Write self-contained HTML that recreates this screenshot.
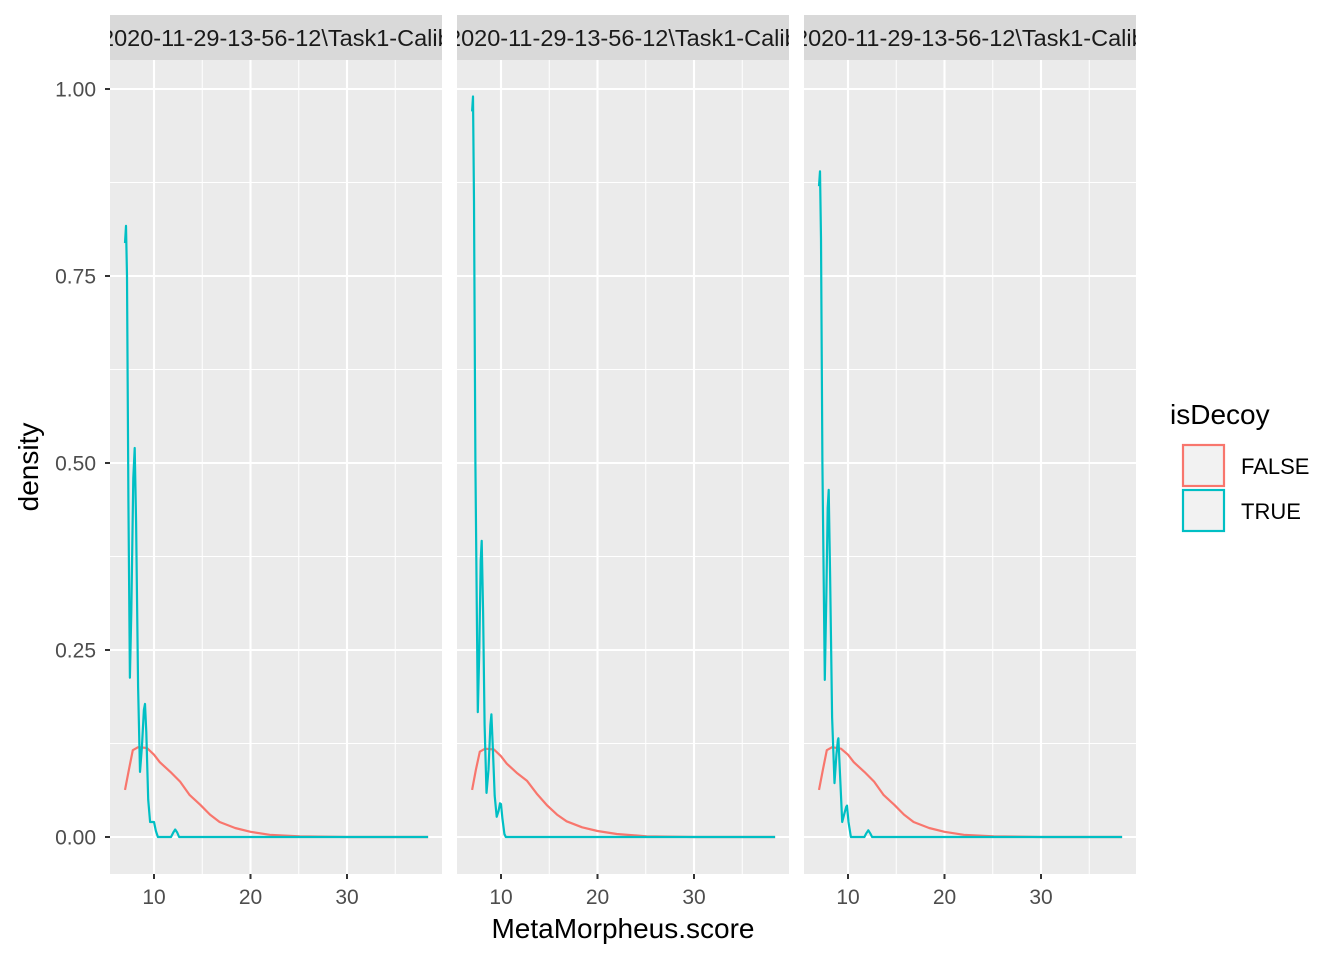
<!DOCTYPE html>
<html><head><meta charset="utf-8"><style>
html,body{margin:0;padding:0;background:#fff;}
svg{display:block;font-family:"Liberation Sans",Arial,sans-serif;}
</style></head><body>
<svg id="chart" width="1344" height="960" viewBox="0 0 1344 960" xmlns="http://www.w3.org/2000/svg"></svg>
<script>
const panelLabels = ["2020-11-29-13-56-12\\Task1-Calibrate", "2020-11-29-13-56-12\\Task1-Calibrate", "2020-11-29-13-56-12\\Task1-Calibrate"];
const xTicks = [10, 20, 30];
const yTicks = [0, 0.25, 0.5, 0.75, 1.0];
const yTickLabels = ["0.00", "0.25", "0.50", "0.75", "1.00"];
const seriesNames = ["FALSE", "TRUE"];
const seriesColors = ["#F8766D", "#00BFC4"];

const falseX = [7.0, 7.4, 7.8, 8.35, 9.27, 10.0, 10.6, 11.7, 12.7, 13.7, 14.8, 15.8, 16.8, 18.4, 20.0, 22.0, 25.1, 30.0, 38.4];
const falseY1 = [0.063, 0.09, 0.116, 0.12, 0.119, 0.11, 0.1, 0.087, 0.074, 0.056, 0.043, 0.03, 0.02, 0.012, 0.007, 0.003, 0.001, 0.0, 0.0];
const falseY2 = [0.063, 0.09, 0.114, 0.118, 0.117, 0.108, 0.098, 0.085, 0.075, 0.058, 0.042, 0.03, 0.021, 0.013, 0.008, 0.004, 0.001, 0.0, 0.0];
const falseY3 = [0.063, 0.09, 0.116, 0.12, 0.118, 0.11, 0.1, 0.087, 0.074, 0.056, 0.043, 0.03, 0.02, 0.012, 0.007, 0.003, 0.001, 0.0, 0.0];

const trueX1 = [7.0, 7.1, 7.2, 7.35, 7.5, 7.65, 7.85, 8.0, 8.15, 8.35, 8.55, 8.75, 8.95, 9.07, 9.2, 9.4, 9.6, 9.8, 10.0, 10.2, 10.4, 11.76, 12.0, 12.2, 12.4, 12.6, 38.4];
const trueY1 = [0.794, 0.817, 0.75, 0.45, 0.213, 0.3, 0.48, 0.52, 0.42, 0.2, 0.087, 0.12, 0.17, 0.178, 0.14, 0.05, 0.02, 0.02, 0.02, 0.008, 0.0, 0.0, 0.006, 0.01, 0.006, 0.0, 0.0];
const trueX2 = [7.0, 7.1, 7.2, 7.35, 7.6, 7.75, 7.9, 8.0, 8.15, 8.3, 8.5, 8.7, 8.9, 9.0, 9.15, 9.35, 9.55, 9.75, 9.9, 10.0, 10.15, 10.35, 10.5, 38.4];
const trueY2 = [0.97, 0.99, 0.85, 0.5, 0.167, 0.25, 0.37, 0.396, 0.3, 0.15, 0.059, 0.09, 0.15, 0.164, 0.12, 0.055, 0.027, 0.035, 0.045, 0.044, 0.025, 0.004, 0.0, 0.0];
const trueX3 = [7.0, 7.1, 7.2, 7.35, 7.6, 7.75, 7.9, 8.0, 8.15, 8.35, 8.6, 8.8, 8.95, 9.0, 9.15, 9.4, 9.6, 9.8, 9.9, 10.05, 10.3, 11.7, 11.9, 12.1, 12.3, 12.5, 38.4];
const trueY3 = [0.87, 0.89, 0.8, 0.5, 0.21, 0.32, 0.44, 0.464, 0.35, 0.16, 0.072, 0.11, 0.13, 0.132, 0.09, 0.02, 0.03, 0.04, 0.042, 0.02, 0.0, 0.0, 0.005, 0.009, 0.005, 0.0, 0.0];

const panelsFalse = [[falseX, falseY1], [falseX, falseY2], [falseX, falseY3]];
const panelsTrue = [[trueX1, trueY1], [trueX2, trueY2], [trueX3, trueY3]];

const NS = "http://www.w3.org/2000/svg";
const svg = document.getElementById("chart");
function mk(tag, attrs, parent) {
  const e = document.createElementNS(NS, tag);
  for (const k in attrs) e.setAttribute(k, attrs[k]);
  (parent || svg).appendChild(e);
  return e;
}
const panelLeft = [110, 457, 804];
const panelW = 332, plotTop = 60, plotBottom = 874;
function xScale(p, v) { return panelLeft[p] + 44 + (v - 10) * 9.65; }
function yScale(v) { return 837 - v * 748; }

const defs = mk("defs", {});
for (let p = 0; p < 3; p++) {
  const cp = mk("clipPath", {id: "clip" + p}, defs);
  mk("rect", {x: panelLeft[p], y: 15, width: panelW, height: 45}, cp);
}

for (let p = 0; p < 3; p++) {
  const L = panelLeft[p];
  const g = mk("g", {});
  
  
  const bg = mk("rect", {x: L, y: plotTop, width: panelW, height: plotBottom - plotTop, fill: "#EBEBEB"}, g);
  
  
  for (let i = 0; i < xTicks.length; i++) {
    const v = xTicks[i] + 5;
    const x = xScale(p, v);
    if (x > L && x < L + panelW) mk("line", {x1: x, x2: x, y1: plotTop, y2: plotBottom, stroke: "#fff", "stroke-width": 1}, g);
  }
  for (let i = 0; i < yTicks.length - 1; i++) {
    const y = yScale((yTicks[i] + yTicks[i + 1]) / 2);
    mk("line", {x1: L, x2: L + panelW, y1: y, y2: y, stroke: "#fff", "stroke-width": 1}, g);
  }
  xTicks.forEach(v => {
    const x = xScale(p, v);
    mk("line", {x1: x, x2: x, y1: plotTop, y2: plotBottom, stroke: "#fff", "stroke-width": 2.1}, g);
    mk("line", {x1: x, x2: x, y1: plotBottom, y2: plotBottom + 5, stroke: "#333", "stroke-width": 2}, g);
    const t = mk("text", {x: x, y: 904, "text-anchor": "middle", "font-size": 21, fill: "#4D4D4D"}, g);
    t.textContent = v;
    
    
  });
  yTicks.forEach(v => {
    const y = yScale(v);
    mk("line", {x1: L, x2: L + panelW, y1: y, y2: y, stroke: "#fff", "stroke-width": 2.1}, g);
  });
  const strip = mk("rect", {x: L, y: 15, width: panelW, height: 45, fill: "#D9D9D9"}, g);
  
  
  const st = mk("text", {x: L - 9, y: 46, "font-size": 23.5, fill: "#1A1A1A", "clip-path": "url(#clip" + p + ")"}, g);
  st.textContent = panelLabels[p];
  
  
  [panelsFalse[p], panelsTrue[p]].forEach((s, si) => {
    let d = "";
    s[0].forEach((xv, i) => { d += (i ? "L" : "M") + xScale(p, xv).toFixed(1) + "," + yScale(s[1][i]).toFixed(1); });
    const path = mk("path", {d: d, fill: "none", stroke: seriesColors[si], "stroke-width": 2.2, "stroke-linejoin": "round"}, g);
    
    
  });
}
yTicks.forEach((v, i) => {
  const y = yScale(v);
  mk("line", {x1: 105, x2: 110, y1: y, y2: y, stroke: "#333", "stroke-width": 2});
  const t = mk("text", {x: 96, y: y + 7.5, "text-anchor": "end", "font-size": 21, fill: "#4D4D4D"});
  t.textContent = yTickLabels[i];
  
  
});
const xt = mk("text", {x: 623, y: 938, "text-anchor": "middle", "font-size": 28, fill: "#000"});
xt.textContent = "MetaMorpheus.score";


const yt = mk("text", {x: 0, y: 0, "text-anchor": "middle", "font-size": 28, fill: "#000", transform: "translate(38,467) rotate(-90)"});
yt.textContent = "density";


const lg = mk("g", {});


const lt = mk("text", {x: 1170, y: 424, "font-size": 28, fill: "#000"}, lg);
lt.textContent = "isDecoy";


seriesNames.forEach((n, i) => {
  const y = 445 + i * 45;
  const r = mk("rect", {x: 1183, y: y, width: 41, height: 41, fill: "#F2F2F2", stroke: seriesColors[i], "stroke-width": 2.2}, lg);
  
  
  const t = mk("text", {x: 1241, y: y + 29, "font-size": 22, fill: "#000"}, lg);
  t.textContent = n;
  
  
});
</script>
</body></html>
